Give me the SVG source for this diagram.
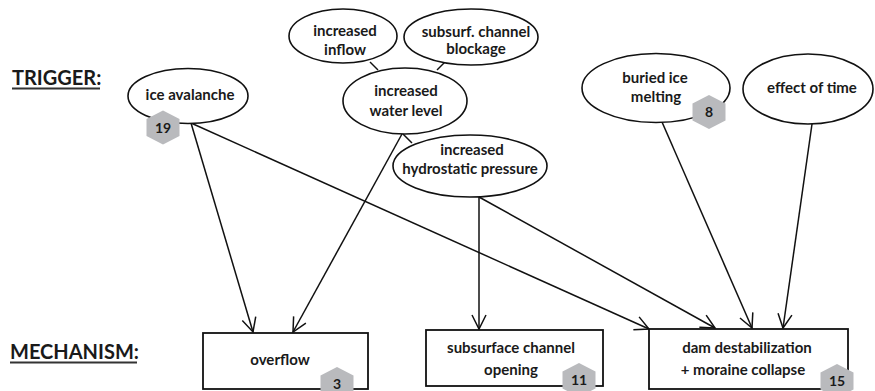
<svg xmlns="http://www.w3.org/2000/svg" width="875" height="391" viewBox="0 0 875 391">
<style>
text{font-family:Lato,"Liberation Sans",sans-serif;font-weight:bold;fill:#1a1a1a;text-anchor:middle}
.t{font-size:15px}
.h{font-size:20px;text-anchor:start}
.n{font-size:14px}
.e{fill:#fff;stroke:#111;stroke-width:1.6}
.b{fill:#fff;stroke:#111;stroke-width:1.8}
.x{fill:#b9babd;stroke:none}
.c line{stroke:#111;stroke-width:1.5;marker-end:url(#a)}
.s line{stroke:#111;stroke-width:1.5}
.u{stroke:#333;stroke-width:2}
</style>
<defs>
<marker id="a" markerUnits="userSpaceOnUse" markerWidth="20" markerHeight="20" refX="0" refY="0" viewBox="-16 -10 20 20" orient="auto">
<path d="M-14,-7 L0,0 L-14,7" fill="none" stroke="#111" stroke-width="1.5"/>
</marker>
<polygon id="hx" points="0,-17 16.5,-8.5 16.5,8.5 0,17 -16.5,8.5 -16.5,-8.5"/>
</defs>
<rect width="875" height="391" fill="#fff"/>

<g id="labels">
<text class="h" x="12" y="85">TRIGGER:</text>
<line class="u" x1="12" y1="88.5" x2="100" y2="88.5"/>
<text class="h" x="10" y="359">MECHANISM:</text>
<line class="u" x1="10" y1="362.5" x2="137" y2="362.5"/>
</g>

<g id="connectors">
<g class="s">
<line x1="370" y1="62" x2="378" y2="70"/>
<line x1="445" y1="62" x2="437" y2="70"/>
<line x1="403" y1="134" x2="412" y2="143"/>
</g>
<g class="c">
<line x1="191" y1="123" x2="253" y2="332"/>
<line x1="191" y1="123" x2="649" y2="329"/>
<line x1="402" y1="134" x2="293" y2="332"/>
<line x1="479" y1="197" x2="479" y2="329"/>
<line x1="479" y1="197" x2="715" y2="328"/>
<line x1="662" y1="122" x2="752" y2="328"/>
<line x1="812" y1="124" x2="783" y2="328"/>
</g>
</g>

<g id="n-inflow">
<ellipse class="e" cx="343" cy="36" rx="54" ry="27"/>
<text class="t" x="345" y="36">increased</text>
<text class="t" x="345" y="55">inflow</text>
</g>
<g id="n-blockage">
<ellipse class="e" cx="471" cy="37" rx="67" ry="28"/>
<text class="t" x="476" y="37">subsurf. channel</text>
<text class="t" x="476" y="54">blockage</text>
</g>
<g id="n-waterlevel">
<ellipse class="e" cx="405" cy="101" rx="62" ry="33"/>
<text class="t" x="406" y="96">increased</text>
<text class="t" x="406" y="116">water level</text>
</g>
<g id="n-hydro">
<ellipse class="e" cx="470" cy="166" rx="77" ry="31"/>
<text class="t" x="472" y="155">increased</text>
<text class="t" x="470" y="174">hydrostatic pressure</text>
</g>
<g id="n-ice">
<ellipse class="e" cx="188" cy="96" rx="60" ry="27.5"/>
<text class="t" x="190" y="100">ice avalanche</text>
<use href="#hx" class="x" x="163" y="127.5"/>
<text class="n" x="163" y="132.5">19</text>
</g>
<g id="n-buried">
<ellipse class="e" cx="656" cy="88" rx="74" ry="34.5"/>
<text class="t" x="655" y="83">buried ice</text>
<text class="t" x="656" y="102">melting</text>
<use href="#hx" class="x" x="709" y="112"/>
<text class="n" x="709" y="117">8</text>
</g>
<g id="n-time">
<ellipse class="e" cx="808" cy="89" rx="65" ry="35"/>
<text class="t" x="812" y="93">effect of time</text>
</g>

<g id="m-overflow">
<rect class="b" x="203" y="333" width="165" height="56"/>
<text class="t" x="280" y="365">overflow</text>
<use href="#hx" class="x" x="337" y="384"/>
<text class="n" x="337" y="389">3</text>
</g>
<g id="m-subsurface">
<rect class="b" x="426" y="330" width="177" height="56"/>
<text class="t" x="511" y="353">subsurface channel</text>
<text class="t" x="511" y="375">opening</text>
<use href="#hx" class="x" x="579" y="380"/>
<text class="n" x="579" y="385">11</text>
</g>
<g id="m-dam">
<rect class="b" x="649" y="329" width="199" height="60"/>
<text class="t" x="747" y="353">dam destabilization</text>
<text class="t" x="743" y="375">+ moraine collapse</text>
<use href="#hx" class="x" x="837" y="381"/>
<text class="n" x="837" y="386">15</text>
</g>
</svg>
